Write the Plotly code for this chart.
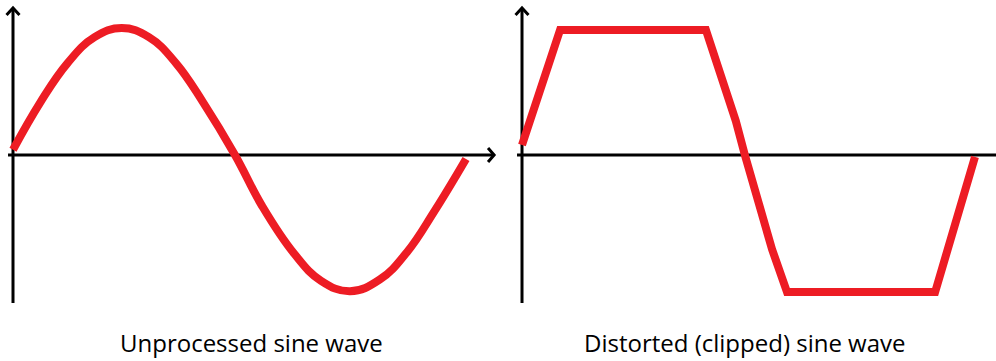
import plotly.graph_objects as go

# one period of the clean wave (time in periods, amplitude in peak units)
clean_t = [0.0, 0.06, 0.12, 0.18, 0.24, 0.30, 0.36, 0.42, 0.49,
           0.55, 0.62, 0.68, 0.744, 0.81, 0.87, 0.93, 1.0]
clean_v = [0.04, 0.40, 0.70, 0.90, 0.97, 0.90, 0.70, 0.40, 0.0,
           -0.39, -0.75, -0.96, -1.04, -0.95, -0.74, -0.43, -0.03]

# same period after clipping
clip_t = [0.0, 0.084, 0.406, 0.439, 0.472, 0.492, 0.519, 0.552, 0.585, 0.912, 1.0]
clip_v = [0.076, 0.954, 0.954, 0.62, 0.26, 0.0, -0.35, -0.72, -1.046, -1.046, -0.015]

captions = ['Unprocessed sine wave', 'Distorted (clipped) sine wave']

RED = '#ed1c24'

layout = go.Layout(width=996, height=361, margin=dict(t=0, l=0, r=0, b=0),
                   paper_bgcolor='white', plot_bgcolor='white', showlegend=False,
                   xaxis=dict(domain=[0, 0.5], range=[-0.0287, 1.0706], visible=False, fixedrange=True),
                   yaxis=dict(domain=[0, 1], range=[-1.5725, 1.1832], visible=False, fixedrange=True),
                   xaxis2=dict(domain=[0.5, 1], range=[-0.053, 1.0464], visible=False, fixedrange=True),
                   yaxis2=dict(domain=[0, 1], range=[-1.5725, 1.1832], visible=False, fixedrange=True,
                               anchor='x2'))
fig = go.Figure(layout=layout)

fig.add_trace(go.Scatter(x=clean_t, y=clean_v, mode='lines',
                         line=dict(color=RED, width=8, shape='spline', smoothing=1.2),
                         xaxis='x', yaxis='y', hoverinfo='skip'))
fig.add_trace(go.Scatter(x=clip_t, y=clip_v, mode='lines', line=dict(color=RED, width=8),
                         xaxis='x2', yaxis='y2', hoverinfo='skip'))

# hand-drawn style axes with open arrowheads
ax = dict(color='black', width=3)
for xr, yr, xend, arrow in [('x', 'y', 1.062, True), ('x2', 'y2', 1.07, False)]:
    fig.add_shape(type='line', xref=xr, yref=yr, x0=0, x1=0, y0=-1.13, y1=1.12, line=ax, layer='below')
    fig.add_shape(type='path', xref=xr, yref=yr, path='M -0.0143 1.069 L 0 1.122 L 0.0143 1.069', line=ax)
    fig.add_shape(type='line', xref=xr, yref=yr, x0=-0.011, x1=xend, y0=0, y1=0, line=ax, layer='below')
    if arrow:
        fig.add_shape(type='path', xref=xr, yref=yr,
                      path='M 1.0486 0.053 L 1.062 0 L 1.0486 -0.053', line=ax)

for x, text in zip([0.2525, 0.748], captions):
    fig.add_annotation(x=x, y=0.05, xref='paper', yref='paper', text=text, showarrow=False,
                       xanchor='center', yanchor='middle',
                       font=dict(family='Open Sans', size=24, color='black'))

# drop the default page margin so the figure sits at the window's corner
fig.write_html('out.html', config={'displayModeBar': False},
               post_script="document.body.style.margin='0';")
